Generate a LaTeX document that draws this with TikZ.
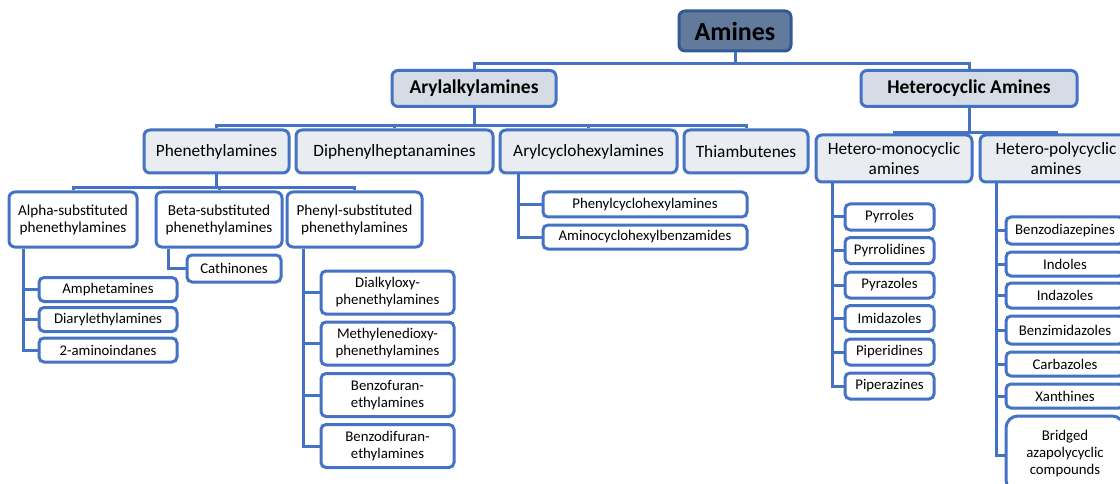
\documentclass[tikz,border=0pt]{standalone}
\usepackage{fontspec}
\setmainfont{Carlito}
\definecolor{bcol}{RGB}{68,114,196}
\definecolor{rootfill}{RGB}{98,122,155}
\definecolor{rootdraw}{RGB}{52,88,150}
\definecolor{lonefill}{RGB}{214,220,229}
\definecolor{ltwofill}{RGB}{233,236,241}
\tikzset{
  box/.style={draw=bcol, line width=3pt, rounded corners=6pt, inner sep=0pt, align=center, text=black},
  rootbox/.style={box, draw=rootdraw, fill=rootfill, font=\fontsize{26}{30}\selectfont\bfseries},
  lonebox/.style={box, fill=lonefill, font=\fontsize{19.5}{23}\selectfont\bfseries},
  ltwobox/.style={box, fill=ltwofill, font=\fontsize{17.3}{19.5}\selectfont},
  lthreebox/.style={box, fill=white, font=\fontsize{15.2}{17}\selectfont},
  leafbox/.style={box, fill=white, rounded corners=5pt, font=\fontsize{14.8}{17}\selectfont},
  conn/.style={draw=bcol, line width=3pt}
}
\begin{document}
\begin{tikzpicture}[x=1pt,y=-1pt]
\path[use as bounding box] (0,0) rectangle (1120,484);
\clip (0,0) rectangle (1120,484);
% root and level 1
\node[rootbox, minimum width=112pt, minimum height=40pt] (amines) at (735,31) {Amines};
\node[lonebox, minimum width=164pt, minimum height=36pt] (aryl) at (474,88.5) {Arylalkylamines};
\node[lonebox, minimum width=216pt, minimum height=36pt] (hetero) at (969,88.5) {Heterocyclic Amines};
% level 2
\node[ltwobox, minimum width=145pt, minimum height=43pt] (phen) at (216.5,151.5) {Phenethylamines};
\node[ltwobox, minimum width=197pt, minimum height=43pt] (diph) at (394.5,151.5) {Diphenylheptanamines};
\node[ltwobox, minimum width=177pt, minimum height=43pt] (arylc) at (588.5,151.5) {Arylcyclohexylamines};
\node[ltwobox, minimum width=124pt, minimum height=43pt] (thia) at (746,151.5) {Thiambutenes};
\node[ltwobox, minimum width=156pt, minimum height=47pt] (mono) at (894,158.5) {Hetero-monocyclic\\amines};
\node[ltwobox, minimum width=152pt, minimum height=47pt] (poly) at (1056,158.5) {Hetero-polycyclic\\amines};
% level 3
\node[lthreebox, minimum width=128pt, minimum height=55pt] (alpha) at (73,219.5) {Alpha-substituted\\phenethylamines};
\node[lthreebox, minimum width=126pt, minimum height=55pt] (beta) at (219,219.5) {Beta-substituted\\phenethylamines};
\node[lthreebox, minimum width=135pt, minimum height=55pt] (phenyl) at (354.5,219.5) {Phenyl-substituted\\phenethylamines};
% leaves under alpha / beta
\node[leafbox, minimum width=94pt, minimum height=27pt] (cath) at (234,268.5) {Cathinones};
\node[leafbox, minimum width=138pt, minimum height=24pt] (amph) at (108,289.5) {Amphetamines};
\node[leafbox, minimum width=138pt, minimum height=24pt] (diar) at (108,319.5) {Diarylethylamines};
\node[leafbox, minimum width=138pt, minimum height=24pt] (amino) at (108,350) {2-aminoindanes};
% leaves under phenyl
\node[leafbox, minimum width=133pt, minimum height=43pt] (dial) at (387.5,292.5) {Dialkyloxy-\\phenethylamines};
\node[leafbox, minimum width=133pt, minimum height=43pt] (meth) at (387.5,343.5) {Methylenedioxy-\\phenethylamines};
\node[leafbox, minimum width=133pt, minimum height=43pt] (bfur) at (387.5,395) {Benzofuran-\\ethylamines};
\node[leafbox, minimum width=133pt, minimum height=43pt] (bdfur) at (387.5,446) {Benzodifuran-\\ethylamines};
% leaves under arylcyclohexylamines
\node[leafbox, minimum width=204pt, minimum height=25pt] (pcyc) at (645,204.5) {Phenylcyclohexylamines};
\node[leafbox, minimum width=204pt, minimum height=24pt] (acyc) at (645,237) {Aminocyclohexylbenzamides};
% leaves under mono
\node[leafbox, minimum width=89pt, minimum height=26pt] (pyrr) at (889.5,217) {Pyrroles};
\node[leafbox, minimum width=89pt, minimum height=26pt] (pyrd) at (889.5,250.5) {Pyrrolidines};
\node[leafbox, minimum width=89pt, minimum height=26pt] (pyra) at (889.5,285) {Pyrazoles};
\node[leafbox, minimum width=89pt, minimum height=26pt] (imid) at (889.5,318.5) {Imidazoles};
\node[leafbox, minimum width=89pt, minimum height=26pt] (pipd) at (889.5,352) {Piperidines};
\node[leafbox, minimum width=89pt, minimum height=26pt] (pipz) at (889.5,386) {Piperazines};
% leaves under poly
\node[leafbox, minimum width=118pt, minimum height=27pt] (bdia) at (1065,230.5) {Benzodiazepines};
\node[leafbox, minimum width=118pt, minimum height=24pt] (indo) at (1065,264) {Indoles};
\node[leafbox, minimum width=118pt, minimum height=25pt] (inda) at (1065,295.5) {Indazoles};
\node[leafbox, minimum width=118pt, minimum height=28pt] (bimi) at (1065,330) {Benzimidazoles};
\node[leafbox, minimum width=118pt, minimum height=24pt] (carb) at (1065,364) {Carbazoles};
\node[leafbox, minimum width=118pt, minimum height=24pt] (xant) at (1065,396) {Xanthines};
\node[leafbox, rounded corners=12pt, minimum width=118pt, minimum height=76pt] (brid) at (1065,454) {Bridged\\azapolycyclic\\compounds};
% connectors
\coordinate (j0) at (735,64);
\draw[conn] (amines.south) -- (j0);
\draw[conn] (aryl.north) |- (j0) -| (hetero.north);
\coordinate (j1) at (474,126);
\draw[conn] (aryl.south) -- (j1);
\draw[conn] (phen.north) |- (j1) -| (thia.north);
\draw[conn] (diph.north) -- (diph.north |- j1);
\draw[conn] (arylc.north) -- (arylc.north |- j1);
\coordinate (j2) at (968,133);
\draw[conn] (hetero.south) -- (hetero.south |- j2);
\draw[conn] (mono.north) |- (j2) -| (poly.north);
\coordinate (j3) at (216.5,188);
\draw[conn] (phen.south) -- (j3);
\draw[conn] (alpha.north) |- (j3) -| (phenyl.north);
\draw[conn] (beta.north) -- (beta.north |- j3);
% brackets
\draw[conn] ([xshift=-50pt]alpha.south) |- (amph.west);
\draw[conn] ([xshift=-50pt]alpha.south) |- (diar.west);
\draw[conn] ([xshift=-50pt]alpha.south) |- (amino.west);
\draw[conn] ([xshift=-51pt]beta.south) |- (cath.west);
\draw[conn] ([xshift=-51.5pt]phenyl.south) |- (dial.west);
\draw[conn] ([xshift=-51.5pt]phenyl.south) |- (meth.west);
\draw[conn] ([xshift=-51.5pt]phenyl.south) |- (bfur.west);
\draw[conn] ([xshift=-51.5pt]phenyl.south) |- (bdfur.west);
\draw[conn] ([xshift=-70.5pt]arylc.south) |- (pcyc.west);
\draw[conn] ([xshift=-70.5pt]arylc.south) |- (acyc.west);
\foreach \n in {pyrr,pyrd,pyra,imid,pipd,pipz}
  \draw[conn] ([xshift=-62pt]mono.south) |- (\n.west);
\foreach \n in {bdia,indo,inda,bimi,carb,xant}
  \draw[conn] ([xshift=-60pt]poly.south) |- (\n.west);
\draw[conn] ([xshift=-60pt]poly.south) |- ([yshift=-1pt]brid.west);
\end{tikzpicture}
\end{document}
